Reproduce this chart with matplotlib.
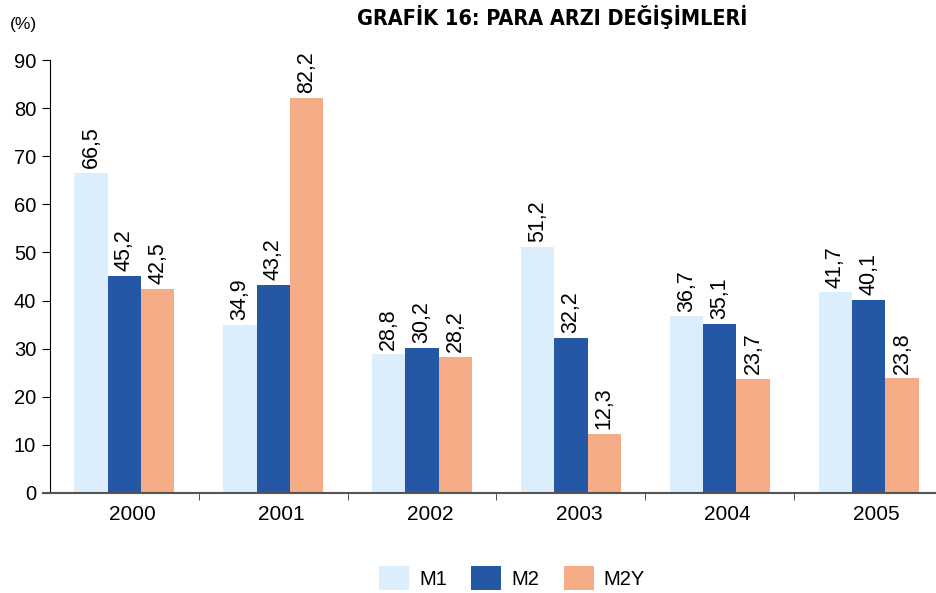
import matplotlib
matplotlib.use("Agg")
import matplotlib.pyplot as plt
import matplotlib.transforms as mtransforms
from matplotlib.patches import Patch
import numpy as np

years = ["2000", "2001", "2002", "2003", "2004", "2005"]
m1 = [66.5, 34.9, 28.8, 51.2, 36.7, 41.7]
m2 = [45.2, 43.2, 30.2, 32.2, 35.1, 40.1]
m2y = [42.5, 82.2, 28.2, 12.3, 23.7, 23.8]
series_names = ["M1", "M2", "M2Y"]
colors = ["#DCEEFB", "#2457A4", "#F5AC87"]

plt.rcParams["font.family"] = ["Liberation Sans", "DejaVu Sans"]

fig = plt.figure(figsize=(9.37, 5.93), dpi=100)
ax = fig.add_axes([50 / 937, 100 / 593, 887 / 937, 433 / 593])

x = np.arange(len(years))
w = 0.224
for i, (vals, name, col) in enumerate(zip([m1, m2, m2y], series_names, colors)):
    pos = x + (i - 1) * w
    ax.bar(pos, vals, width=w, color=col, label=name, zorder=2)
    for p, v in zip(pos, vals):
        ax.annotate(f"{v:.1f}".replace(".", ","), (p, v), xytext=(0, 3.5),
                    textcoords="offset points", rotation=90,
                    ha="center", va="bottom", fontsize=15.5)

ax.set_xlim(-0.5, 5.46)
ax.set_ylim(0, 90)
ax.set_yticks(range(0, 91, 10))
ax.tick_params(axis="y", labelsize=14.5, direction="out", length=6, pad=4)

ax.set_xticks(x)
ax.set_xticklabels(years, fontsize=15)
ax.tick_params(axis="x", length=0, pad=9)
# year labels sit a little right of the bar groups in the original
shift = mtransforms.ScaledTranslation(8 / 100, 0, fig.dpi_scale_trans)
for lbl in ax.get_xticklabels():
    lbl.set_transform(lbl.get_transform() + shift)
ax.set_xticks(np.arange(0.5, 5.5, 1), minor=True)
ax.tick_params(axis="x", which="minor", length=5, direction="out", color="#333333")

for s in ["top", "right"]:
    ax.spines[s].set_visible(False)
ax.spines["left"].set_color("black")
ax.spines["bottom"].set_color("#555555")
ax.spines["bottom"].set_linewidth(1.5)
ax.spines["bottom"].set_bounds(-0.55, 5.46)

fig.text(10 / 937, 1 - 24 / 593, "(%)", fontsize=12.5, va="center", ha="left")
fig.text(552 / 937, 1 - 17 / 593, "GRAFİK 16: PARA ARZI DEĞİŞİMLERİ",
         fontsize=15.5, fontweight="bold", fontstretch="condensed",
         ha="center", va="center", family=["DejaVu Sans"])

handles = [Patch(facecolor=c, label=n) for c, n in zip(colors, series_names)]
fig.legend(handles=handles, loc="center", bbox_to_anchor=(512 / 937, 1 - 578 / 593),
           ncol=3, frameon=False, fontsize=14.5, handlelength=1.5, handleheight=1.45,
           handletextpad=0.5, columnspacing=1.2)

fig.savefig("out.png", dpi=100)
